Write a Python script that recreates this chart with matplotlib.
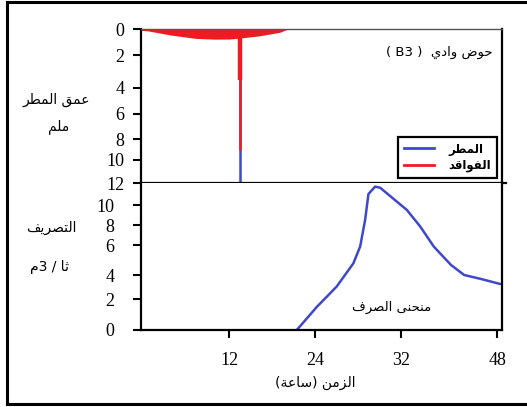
import numpy as np
import matplotlib
matplotlib.use("Agg")
import matplotlib.pyplot as plt
from matplotlib.lines import Line2D

# --- datos ---
# lluvia (hietograma): un solo pulso
rain_t = [13.47]
rain_d = [12.0]

# perdidas (laminas) en mm
loss_t = [0.0, 1.0, 4.0, 7.4, 10.0, 12.1, 13.5, 16.3, 19.1, 20.2]
loss_d = [0.1, 0.15, 0.46, 0.72, 0.78, 0.77, 0.7, 0.52, 0.25, 0.0]
# perdida en el pico de lluvia
spike_t = 13.47
spike_thick = 3.5
spike_thin = 9.05

# hidrograma de caudal m3/s
q_t = [21.45, 24.16, 26.0, 27.56, 28.19, 28.65, 28.96, 29.58, 30.05,
       32.96, 35.2, 37.45, 40.3, 42.5, 45.3, 48.5]
q_v = [0.0, 1.49, 3.03, 4.78, 5.9, 8.5, 11.0, 11.67, 11.57,
       9.5, 7.83, 5.89, 4.67, 4.0, 3.67, 3.25]

x_ticks = [12, 24, 32, 48]
x_ticklabels = ["12", "24", "32", "48"]
rain_ticks = [0, 2, 4, 6, 8, 10, 12]
q_ticks = [0, 2, 4, 6, 8, 10]

BLUE = "#3f48cc"
RED = "#ed1c24"

# calibracion de los ejes (la escala del original no es lineal)
x_cal = [0, 12, 24, 32, 48, 50]
x_px = [141, 229, 315, 401, 497, 509]
r_cal = [0, 2, 4, 6, 8, 10, 12]
r_px = [29, 55, 88, 114, 139, 160, 183]
q_cal = [0, 2, 4, 6, 8, 10, 12]
q_px = [0, 31, 55, 85, 105, 125, 147]


def escala(cal, px):
    fwd = lambda v: np.interp(v, cal, px)
    inv = lambda p: np.interp(p, px, cal)
    return (fwd, inv)


# --- forma de letras arabes (matplotlib no une las letras) ---
DUAL = {'ب': 0xFE8F, 'ت': 0xFE95, 'ث': 0xFE99, 'ج': 0xFE9D, 'ح': 0xFEA1,
        'خ': 0xFEA5, 'س': 0xFEB1, 'ش': 0xFEB5, 'ص': 0xFEB9, 'ض': 0xFEBD,
        'ط': 0xFEC1, 'ظ': 0xFEC5, 'ع': 0xFEC9, 'غ': 0xFECD, 'ف': 0xFED1,
        'ق': 0xFED5, 'ك': 0xFED9, 'ل': 0xFEDD, 'م': 0xFEE1, 'ن': 0xFEE5,
        'ه': 0xFEE9, 'ي': 0xFEF1}
RIGHT = {'ا': 0xFE8D, 'ة': 0xFE93, 'د': 0xFEA9, 'ذ': 0xFEAB, 'ر': 0xFEAD,
         'ز': 0xFEAF, 'و': 0xFEED, 'ى': 0xFEEF}


def ar(s):
    out = []
    i = 0
    n = len(s)
    while i < n:
        c = s[i]
        prev_j = i > 0 and s[i - 1] in DUAL
        if c == 'ل' and i + 1 < n and s[i + 1] == 'ا':
            out.append(chr(0xFEFC if prev_j else 0xFEFB))
            i += 2
            continue
        if c in DUAL:
            next_j = i + 1 < n and (s[i + 1] in DUAL or s[i + 1] in RIGHT)
            k = 3 if (prev_j and next_j) else 2 if next_j else 1 if prev_j else 0
            out.append(chr(DUAL[c] + k))
        elif c in RIGHT:
            out.append(chr(RIGHT[c] + (1 if prev_j else 0)))
        else:
            out.append(c)
        i += 1
    return ''.join(reversed(out))


W, H = 527, 407
fig = plt.figure(figsize=(W / 100, H / 100), dpi=100)
fig.patch.set_facecolor("white")


def fx(px):
    return px / W


def fy(py):
    return 1 - py / H


ax1 = fig.add_axes([fx(141), fy(183), fx(502) - fx(141), fy(29) - fy(183)])
ax2 = fig.add_axes([fx(141), fy(330), fx(502) - fx(141), fy(183) - fy(330)])

# ---- arriba: lluvia y perdidas ----
ax1.set_xscale("function", functions=escala(x_cal, x_px))
ax1.set_yscale("function", functions=escala(r_cal, r_px))
ax1.vlines(rain_t, 0, rain_d, color=BLUE, lw=1.8)
ax1.fill_between(loss_t, 0, loss_d, color=RED, lw=0)
ax1.vlines(spike_t, 0, spike_thin, color=RED, lw=1.8)
ax1.vlines(spike_t, 0, spike_thick, color=RED, lw=3.2)
ax1.set_xlim(0, 48.8)
ax1.set_ylim(12, 0)
ax1.set_yticks(rain_ticks)
ax1.set_yticklabels([str(v) for v in rain_ticks], family="Liberation Serif", fontsize=13)
ax1.set_xticks([])
ax1.tick_params(axis="y", direction="out", length=6, width=1.5, pad=6)
for s in ["left", "bottom", "right"]:
    ax1.spines[s].set_linewidth(1.6)
ax1.spines["top"].set_linewidth(1.0)
ax1.spines["top"].set_color("#555555")

leg = ax1.legend([Line2D([], [], color=BLUE, lw=2), Line2D([], [], color=RED, lw=2)],
                 [ar("المطر"), ar("الفواقد")],
                 loc="lower right", bbox_to_anchor=(0.986, 0.03),
                 prop={"family": "DejaVu Sans", "size": 8.5, "weight": "bold"},
                 fancybox=False, framealpha=1, edgecolor="black",
                 handlelength=2.6, handletextpad=1.2, borderpad=0.5,
                 labelspacing=0.3, borderaxespad=0)
leg.get_frame().set_linewidth(1.6)

# ---- abajo: caudal ----
ax2.set_xscale("function", functions=escala(x_cal, x_px))
ax2.set_yscale("function", functions=escala(q_cal, q_px))
ax2.plot(q_t, q_v, color=BLUE, lw=1.8, solid_capstyle="round")
ax2.set_xlim(0, 48.8)
ax2.set_ylim(0, 12)
ax2.set_yticks(q_ticks)
ax2.set_yticklabels([str(v) for v in q_ticks], family="Liberation Serif", fontsize=13)
ax2.set_xticks(x_ticks)
ax2.set_xticklabels(x_ticklabels, family="Liberation Serif", fontsize=13)
ax2.tick_params(axis="y", direction="out", length=6, width=1.5, pad=13)
ax2.tick_params(axis="x", direction="out", length=6, width=1.5, pad=10)
ax2.spines["top"].set_visible(False)
for s in ["left", "bottom", "right"]:
    ax2.spines[s].set_linewidth(1.6)

# linea central un poco mas larga
fig.add_artist(Line2D([fx(502), fx(506)], [fy(183), fy(183)], color="black", lw=1.6))

# marco exterior (el borde derecho queda fuera de la imagen)
fig.add_artist(Line2D([fx(7), fx(7)], [fy(1.5), fy(403.5)], color="black", lw=2.2))
fig.add_artist(Line2D([fx(7), 1.05], [fy(1.5), fy(1.5)], color="black", lw=2.2))
fig.add_artist(Line2D([fx(7), 1.05], [fy(403.5), fy(403.5)], color="black", lw=2.2))

# textos
fam = "DejaVu Sans"
fig.text(fx(56), fy(100), ar("عمق المطر"), family=fam, fontsize=10, ha="center", va="center")
fig.text(fx(59), fy(127), ar("ملم"), family=fam, fontsize=10, ha="center", va="center")
fig.text(fx(51), fy(228), ar("التصريف"), family=fam, fontsize=10, ha="center", va="center")
fig.text(fx(49), fy(267), ar("م") + "3 / " + ar("ثا"), family=fam, fontsize=10,
         ha="center", va="center")
fig.text(fx(493), fy(52), "( B3 )  " + ar("حوض وادي"), family=fam, fontsize=9.5,
         ha="right", va="center")
fig.text(fx(392), fy(307), ar("منحنى الصرف"), family=fam, fontsize=9.5,
         ha="center", va="center")
fig.text(fx(315), fy(383), "(" + ar("ساعة") + ") " + ar("الزمن"), family=fam, fontsize=10,
         ha="center", va="center")

fig.savefig("out.png", dpi=100)
